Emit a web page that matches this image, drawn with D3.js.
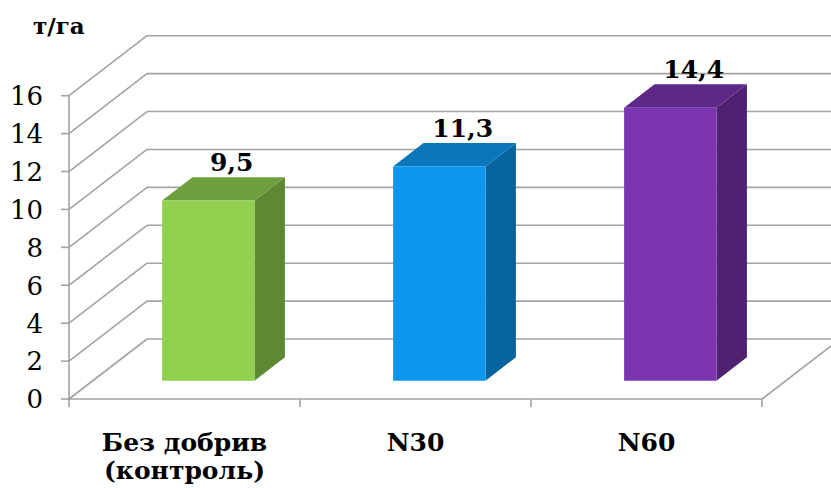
<!DOCTYPE html>
<html><head><meta charset="utf-8">
<script src="https://cdn.jsdelivr.net/npm/d3@7"></script>
<style>body{margin:0;background:#fff}svg{display:block}
text{font-family:"DejaVu Serif",serif}</style>
</head><body>
<script>
const categories = [["Без добрив","(контроль)"],["N30"],["N60"]];
const values = [9.5, 11.3, 14.4];
const valueLabels = ["9,5","11,3","14,4"];
const yTicks = [0,2,4,6,8,10,12,14,16];
const unitLabel = "т/га";
const frontColors = ["#92D050","#0C97EE","#7C35B0"];
const sideColors = ["#5E8932","#07649F","#4E2270"];
const topColors = ["#6F9E3C","#0A76BC","#5E2888"];

const W = 831, H = 488;
const DX = 78, DY = 60;
const Z0 = 0.305, Z1 = 0.695;
const svg = d3.select("body").append("svg").attr("width", W).attr("height", H);
const x = d3.scaleBand().domain(d3.range(categories.length)).range([69, 762]).paddingInner(0.6).paddingOuter(0.3);
const xb = d3.scaleBand().domain(d3.range(categories.length)).range([69, 762]).padding(0);
const y = d3.scaleLinear().domain([0,16]).range([399, 95.7]);
const P = (px, v, z) => [px + z*DX, y(v) - z*DY];
const grid = "#A3A3A3";

const g = svg.append("g");
g.selectAll("line.back").data(yTicks).join("line")
  .attr("x1", d => P(69,d,1)[0]).attr("y1", d => P(69,d,1)[1])
  .attr("x2", d => P(762,d,1)[0]).attr("y2", d => P(762,d,1)[1])
  .attr("stroke", grid).attr("stroke-width", 1.6);
g.selectAll("line.side").data(yTicks).join("line")
  .attr("x1", d => P(69,d,0)[0]).attr("y1", d => P(69,d,0)[1])
  .attr("x2", d => P(69,d,1)[0]).attr("y2", d => P(69,d,1)[1])
  .attr("stroke", grid).attr("stroke-width", 1.6);
g.append("line").attr("x1", 69).attr("y1", y(0)).attr("x2", 762).attr("y2", y(0)).attr("stroke", grid).attr("stroke-width", 1.6);
g.append("line").attr("x1", P(762,0,0)[0]).attr("y1", P(762,0,0)[1]).attr("x2", P(762,0,1)[0]).attr("y2", P(762,0,1)[1]).attr("stroke", grid).attr("stroke-width", 1.6);
const catTicks = d3.range(categories.length+1).map(i => i < categories.length ? xb(i) : xb.range()[1]);
g.selectAll("line.ct").data(catTicks).join("line")
  .attr("x1", d => d).attr("x2", d => d).attr("y1", y(0)).attr("y2", y(0)+8)
  .attr("stroke", grid).attr("stroke-width", 1.6);
g.append("line").attr("x1", 69).attr("x2", 69).attr("y1", y(0)).attr("y2", y(16)).attr("stroke", grid).attr("stroke-width", 1.6);
g.selectAll("line.yt").data(yTicks).join("line")
  .attr("x1", 61).attr("x2", 69).attr("y1", d => y(d)).attr("y2", d => y(d))
  .attr("stroke", grid).attr("stroke-width", 1.6);

const poly = pts => pts.map(p => p.join(",")).join(" ");
values.forEach((v, i) => {
  const xl = x(i), xr = x(i) + x.bandwidth();
  const bg = svg.append("g");
  bg.append("polygon").attr("points", poly([P(xr,0,Z0), P(xr,v,Z0), P(xr,v,Z1), P(xr,0,Z1)])).attr("fill", sideColors[i]);
  bg.append("polygon").attr("points", poly([P(xl,v,Z0), P(xr,v,Z0), P(xr,v,Z1), P(xl,v,Z1)])).attr("fill", topColors[i]);
  bg.append("polygon").attr("points", poly([P(xl,0,Z0), P(xr,0,Z0), P(xr,v,Z0), P(xl,v,Z0)])).attr("fill", frontColors[i]);
  const lp = P((xl+xr)/2, v, Z1);
  svg.append("text").attr("x", lp[0] - 7).attr("y", lp[1] - 6)
    .attr("text-anchor", "middle").attr("font-weight", "bold")
    .attr("font-size", 25).attr("fill", "#000").text(valueLabels[i]);
});

svg.selectAll("text.yl").data(yTicks).join("text")
  .attr("x", 43).attr("y", d => y(d)).attr("dy", "0.36em")
  .attr("text-anchor", "end").attr("font-size", 26).attr("fill", "#000")
  .text(d => d);
svg.append("text").attr("x", 33).attr("y", 34).attr("font-weight", "bold")
  .attr("font-size", 23).attr("fill", "#000").text(unitLabel);
categories.forEach((lines, i) => {
  const cx = xb(i) + xb.bandwidth()/2;
  const t = svg.append("text").attr("x", cx).attr("y", 451)
    .attr("text-anchor", "middle").attr("font-weight", "bold")
    .attr("font-size", 25).attr("fill", "#000");
  lines.forEach((l, k) => t.append("tspan").attr("x", cx).attr("dy", k ? 28 : 0).text(l));
});
</script>
</body></html>
